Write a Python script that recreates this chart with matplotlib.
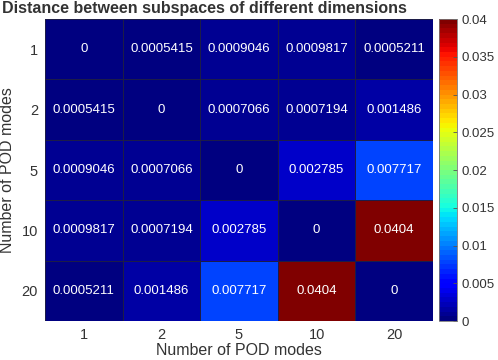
import matplotlib
matplotlib.use("Agg")
import matplotlib.pyplot as plt
import numpy as np

plt.rcParams['font.family'] = ['Liberation Sans', 'DejaVu Sans']

modes = ['1', '2', '5', '10', '20']
dist = [
    [0, 0.0005415, 0.0009046, 0.0009817, 0.0005211],
    [0.0005415, 0, 0.0007066, 0.0007194, 0.001486],
    [0.0009046, 0.0007066, 0, 0.002785, 0.007717],
    [0.0009817, 0.0007194, 0.002785, 0, 0.0404],
    [0.0005211, 0.001486, 0.007717, 0.0404, 0],
]
labels = [
    ['0', '0.0005415', '0.0009046', '0.0009817', '0.0005211'],
    ['0.0005415', '0', '0.0007066', '0.0007194', '0.001486'],
    ['0.0009046', '0.0007066', '0', '0.002785', '0.007717'],
    ['0.0009817', '0.0007194', '0.002785', '0', '0.0404'],
    ['0.0005211', '0.001486', '0.007717', '0.0404', '0'],
]

fig = plt.figure(figsize=(4.98, 3.6), dpi=100)
W, H = 498, 360
ax = fig.add_axes([45 / W, 1 - 321 / H, (433 - 45) / W, (321 - 19) / H])
cax = fig.add_axes([439 / W, 1 - 321 / H, 18 / W, (321 - 19) / H])

cmap = plt.get_cmap('jet', 64)
data = np.array(dist)
mesh = ax.pcolormesh(data, cmap=cmap, vmin=0, vmax=0.04,
                     edgecolors='#1c1c48', linewidth=0.6)
ax.set_xlim(0, 5)
ax.set_ylim(5, 0)
for i in range(5):
    for j in range(5):
        ax.text(j + 0.5, i + 0.5, labels[i][j], ha='center', va='center',
                color='white', fontsize=9.5)

ax.set_xticks(np.arange(5) + 0.5)
ax.set_xticklabels(modes, fontsize=10.5, color='#333333')
ax.set_yticks(np.arange(5) + 0.5)
ax.set_yticklabels(modes, fontsize=10.5, color='#333333')
ax.tick_params(length=0, pad=5)
for s in ax.spines.values():
    s.set_visible(False)
ax.set_xlabel('Number of POD modes', fontsize=11.5, color='#333333', labelpad=1)
ax.set_ylabel('Number of POD modes', fontsize=11.5, color='#333333', labelpad=5)
fig.text(2 / W, 1 - 9 / H, 'Distance between subspaces of different dimensions',
         fontsize=11.5, fontweight='bold', color='#333333', va='center', ha='left')

cb = fig.colorbar(mesh, cax=cax, ticks=[0, 0.005, 0.01, 0.015, 0.02, 0.025, 0.03, 0.035, 0.04])
cb.ax.set_yticklabels(['0', '0.005', '0.01', '0.015', '0.02', '0.025', '0.03', '0.035', '0.04'])
cb.ax.tick_params(labelsize=9.5, labelcolor='#333333', color='#555555',
                  direction='in', length=3, width=0.6, pad=3)
cb.outline.set_edgecolor('#777777')
cb.outline.set_linewidth(0.6)

fig.savefig('out.png', dpi=100)
